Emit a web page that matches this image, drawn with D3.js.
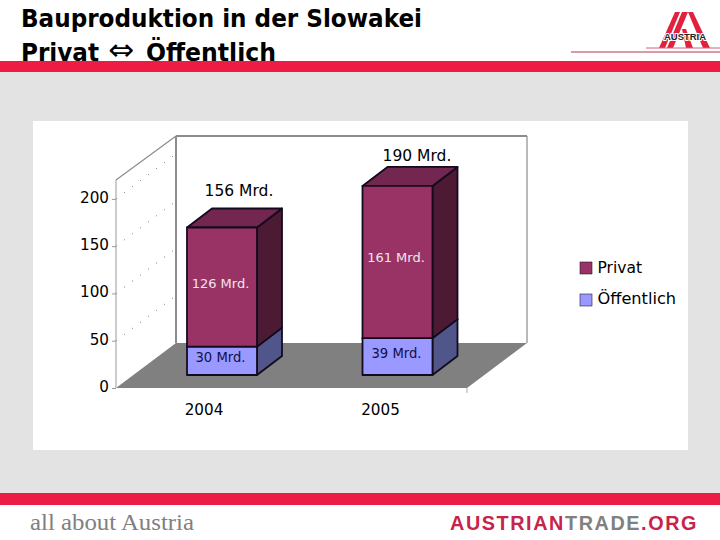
<!DOCTYPE html>
<html><head><meta charset="utf-8">
<style>html,body{margin:0;padding:0;background:#fff}svg{display:block}text{font-family:"DejaVu Sans",sans-serif}</style>
<script src="https://cdn.jsdelivr.net/npm/d3@7"></script></head><body>
<script>
const titleLines = ["Bauproduktion in der Slowakei", "Privat \u21D4 Öffentlich"];
const years = ["2004", "2005"];
const seriesNames = ["Öffentlich", "Privat"];
const publicValues = [30, 39];
const privateValues = [126, 161];
const publicLabels = ["30 Mrd.", "39 Mrd."];
const privateLabels = ["126 Mrd.", "161 Mrd."];
const totalLabels = ["156 Mrd.", "190 Mrd."];
const yTicks = [0, 50, 100, 150, 200];

const W = 720, H = 540;
const svg = d3.select("body").append("svg").attr("width", W).attr("height", H);
const red = "#ed1c45";

// page frame
svg.append("rect").attr("x",0).attr("y",72).attr("width",W).attr("height",421).attr("fill","#e3e3e3");
svg.append("rect").attr("x",33).attr("y",121).attr("width",655).attr("height",329).attr("fill","#fff");
const titleText = (t,xp,yp,len,size,weight)=>svg.append("text").attr("x",xp).attr("y",yp).attr("font-size",size)
  .attr("font-weight",weight).attr("textLength",len).attr("lengthAdjust","spacingAndGlyphs").attr("fill","#000").text(t);
titleText(titleLines[0],21,27,401,24.5,700);
const parts = titleLines[1].split(" ");
titleText(parts[0],21,61,78,24.5,700);
titleText(parts[1],108,60,26,30,400).style("font-family","DejaVu Sans");
titleText(parts[2],146,61,130,24.5,700);
svg.append("rect").attr("x",0).attr("y",61).attr("width",W).attr("height",11).attr("fill",red);
svg.append("rect").attr("x",0).attr("y",493).attr("width",W).attr("height",12).attr("fill",red);

// logo
const logo = svg.append("g").attr("fill","#e0223f");
[[[675,12],[680,12],[665,48],[659,48]],[[682,12],[688,12],[673,48],[667,48]],[[688,12],[693,12],[710,48],[703,48]],[[682,29],[686,29],[693,48],[686,48]]]
  .forEach(p=>logo.append("polygon").attr("points",p.join(" ")));
svg.append("text").attr("x",664).attr("y",40).style("font-family","Liberation Sans").attr("font-size",9.5).attr("font-weight",700)
  .attr("textLength",42).attr("lengthAdjust","spacingAndGlyphs")
  .attr("stroke","#fff").attr("stroke-width",2).attr("paint-order","stroke").attr("fill","#222").text("AUSTRIA");
svg.append("line").attr("x1",646).attr("x2",720).attr("y1",48).attr("y2",48).attr("stroke","#d8607a");
svg.append("line").attr("x1",571).attr("x2",720).attr("y1",52).attr("y2",52).attr("stroke","#b83350");

// footer
svg.append("text").attr("x",30).attr("y",530).style("font-family","Liberation Serif").attr("font-size",24)
  .attr("textLength",164).attr("lengthAdjust","spacingAndGlyphs").attr("fill","#808080").text("all about Austria");
const foot = svg.append("text").attr("x",450).attr("y",530).style("font-family","Liberation Sans").attr("font-size",20)
  .style("letter-spacing","1.6px").attr("font-weight",700).attr("textLength",248).attr("lengthAdjust","spacingAndGlyphs").attr("fill","#c8234a");
foot.append("tspan").text("AUSTRIAN");
foot.append("tspan").attr("fill","#808080").text("TRADE");
foot.append("tspan").text(".ORG");

// chart projection: value axis in the front plane, depth vector for the box
const y = d3.scaleLinear().domain([0,220]).range([388,180]);
const x = d3.scaleBand().domain(years).range([116,467]).paddingInner(0);
const depth = {dx:60, dy:-45};
const g = svg.append("g");

const floor = [[176,343],[527,343],[467,388],[116,388]];
g.append("polygon").attr("points",floor.join(" ")).attr("fill","#808080");
const wall = "#8c8c8c";
const L = (a,b,c,d,w,col)=>g.append("line").attr("x1",a).attr("y1",b).attr("x2",c).attr("y2",d).attr("stroke",col||wall).attr("stroke-width",w);
L(176,136,176,343,2); L(176,136,527,136,2); L(527,136,527,343,1.2); L(116,180,176,136,1.2); L(116,180,116,388,1.2,"#aaa");
L(467,388,467,393,1,"#aaa");

// dotted side-wall gridlines
g.selectAll("line.grid").data(yTicks.slice(1)).join("line").attr("class","grid")
  .attr("x1",116).attr("x2",116+depth.dx).attr("y1",d=>y(d)).attr("y2",d=>y(d)+depth.dy)
  .attr("stroke","#777").attr("stroke-width",1).attr("stroke-dasharray","1 9");

// value axis
const axis = d3.axisLeft(y).tickValues(yTicks).tickSize(4).tickPadding(3);
const ax = g.append("g").attr("transform","translate(116,0)").call(axis);
ax.select(".domain").remove();
ax.selectAll("line").attr("stroke","#999");
ax.selectAll("text").style("font-family","DejaVu Sans").attr("font-size",15.2).attr("fill","#000").attr("transform","translate(0,-1.4)");

// stacked 3D bars
const bW = 70, bDx = 25, bDy = -19, bShiftX = 17, bShiftY = -13;
const fx = i => x(years[i])+bShiftX+54;
function block(i, v0, v1, front, side, top){
  const a = fx(i), b = a+bW, y0 = y(v0)+bShiftY, y1 = y(v1)+bShiftY;
  const st = {stroke:"#140a1e","stroke-width":1.8,"stroke-linejoin":"round"};
  const poly = (pts,fill)=>{const p=g.append("polygon").attr("points",pts.join(" ")).attr("fill",fill);
    Object.entries(st).forEach(([k,val])=>p.attr(k,val));};
  poly([[b,y0],[b+bDx,y0+bDy],[b+bDx,y1+bDy],[b,y1]],side);
  poly([[a,y1],[a+bDx,y1+bDy],[b+bDx,y1+bDy],[b,y1]],top);
  poly([[a,y0],[b,y0],[b,y1],[a,y1]],front);
}
years.forEach((yr,i)=>{
  block(i,0,publicValues[i],"#9999ff","#50558a","#50558a");
  block(i,publicValues[i],publicValues[i]+privateValues[i],"#993366","#4d1a33","#732650");
});

// year labels
g.selectAll("text.year").data(years).join("text").attr("class","year")
  .attr("x",(d,i)=>[204,380.5][i]).attr("y",415).attr("text-anchor","middle").attr("font-size",15.2).attr("fill","#000").text(d=>d);

// value labels
const lab = (arr,xs,ys,col,size)=>arr.forEach((t,i)=>g.append("text").attr("x",xs[i]).attr("y",ys[i])
  .attr("text-anchor","middle").attr("font-size",size).attr("fill",col).text(t));
lab(totalLabels,[239,417],[196,161],"#000",15.5);
lab(privateLabels,[220.5,396],[288,262],"#f0e6ee",13);
lab(publicLabels,[220.5,396.5],[362,358],"#10104a",13.2);

// legend
const legY = {"Privat":262,"Öffentlich":294}, legC = {"Privat":"#993366","Öffentlich":"#9999ff"};
const leg = g.selectAll("g.leg").data(seriesNames).join("g").attr("class","leg");
leg.append("rect").attr("x",580).attr("y",d=>legY[d]).attr("width",12).attr("height",12).attr("fill",d=>legC[d]).attr("stroke","#2a1a30").attr("stroke-width",.6);
leg.append("text").attr("x",597.5).attr("y",d=>legY[d]+(d==="Privat"?11:10)).attr("font-size",d=>d==="Privat"?15.5:16.2).attr("fill","#000").text(d=>d);
</script></body></html>
